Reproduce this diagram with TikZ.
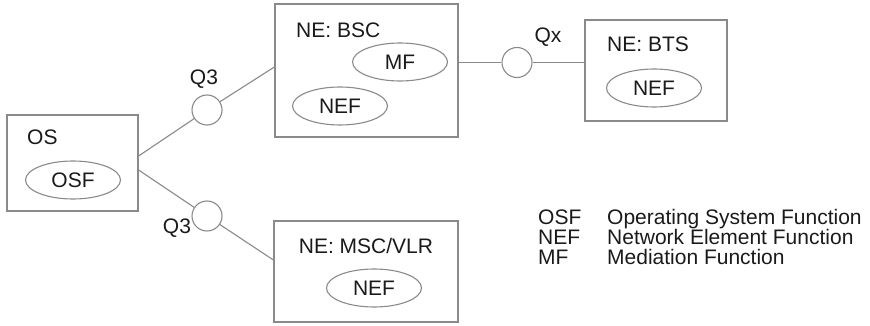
\documentclass[tikz,border=0pt]{standalone}
\usepackage{fontspec}
\setmainfont{Liberation Sans}
\usetikzlibrary{shapes.geometric}
\definecolor{linegray}{HTML}{8A8A8A}
\definecolor{inkgray}{HTML}{1A1A1A}

\begin{document}
\begin{tikzpicture}[x=1pt,y=-1pt,
  box/.style={draw=linegray,line width=1.2pt,inner sep=0pt},
  func/.style={ellipse,draw=linegray,line width=1.1pt,minimum width=95pt,minimum height=38pt,inner sep=0pt,font=\fontsize{21}{21}\selectfont,text=inkgray},
  port/.style={circle,draw=linegray,line width=1.1pt,minimum size=30pt,inner sep=0pt},
  link/.style={draw=linegray,line width=1.1pt},
  lbl/.style={font=\fontsize{21}{21}\selectfont,text=inkgray,inner sep=0pt},
  legend/.style={font=\fontsize{21}{20}\selectfont,text=inkgray,inner sep=0pt,anchor=base west}]
  \useasboundingbox (0,0) rectangle (870,326);
  % Operating system
  \node[box,minimum width=131pt,minimum height=96pt] (os) at (72.5,163) {};
  \node[lbl,anchor=base west] (oslbl) at (27,145) {OS};
  \node[func] (osf) at (73,180) {OSF};
  % Base station controller
  \node[box,minimum width=183pt,minimum height=133pt] (bsc) at (366.5,70.5) {};
  \node[lbl,anchor=base west] (bsclbl) at (296,38) {NE: BSC};
  \node[func] (mf) at (400,62) {MF};
  \node[func] (bscnef) at (340,106) {NEF};
  % Base transceiver station
  \node[box,minimum width=142pt,minimum height=101pt] (bts) at (656,70.5) {};
  \node[lbl,anchor=base west] (btslbl) at (607,52) {NE: BTS};
  \node[func] (btsnef) at (654,88) {NEF};
  % MSC/VLR
  \node[box,minimum width=184pt,minimum height=101pt] (msc) at (366,271.5) {};
  \node[lbl,anchor=base] (msclbl) at (366,253) {NE: MSC/VLR};
  \node[func] (mscnef) at (374,288) {NEF};
  % Interfaces
  \node[port] (q3top) at (207,110) {};
  \node[port] (q3bot) at (207,216) {};
  \node[port] (qx) at (517,62.5) {};
  \node[lbl,anchor=base] (q3toplbl) at (204,85) {Q3};
  \node[lbl,anchor=base] (q3botlbl) at (177,233) {Q3};
  \node[lbl,anchor=base] (qxlbl) at (548,43) {Qx};
  \draw[link] ([yshift=7pt]os.east) -- (q3top) -- ([yshift=3.5pt]bsc.west);
  \draw[link] ([yshift=-7pt]os.east) -- (q3bot) -- ([yshift=11.5pt]msc.west);
  \draw[link] (bsc.east |- qx) -- (qx) -- (bts.west |- qx);
  % Legend
  \node[legend] (k1) at (538,224) {OSF};
  \node[legend] (k2) at (538,244) {NEF};
  \node[legend] (k3) at (538,264) {MF};
  \node[legend] (d1) at (607,224) {Operating System Function};
  \node[legend] (d2) at (607,244) {Network Element Function};
  \node[legend] (d3) at (607,264) {Mediation Function};
\end{tikzpicture}
\end{document}
